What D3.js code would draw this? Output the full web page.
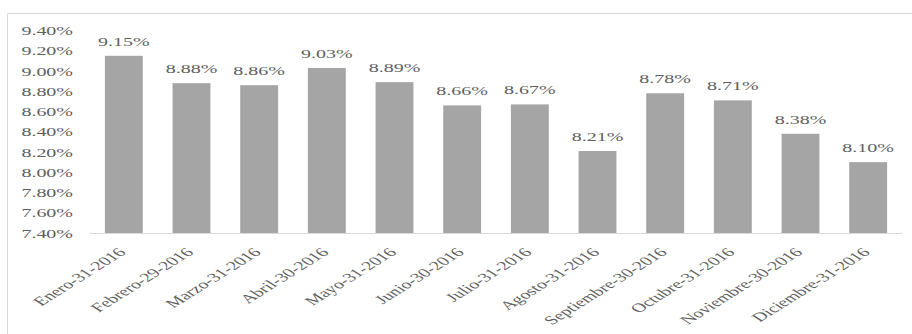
<!DOCTYPE html>
<html>
<head>
<meta charset="utf-8">
<script src="https://cdn.jsdelivr.net/npm/d3@7/dist/d3.min.js"></script>
<style>
  html, body { margin: 0; padding: 0; background: #ffffff; }
  svg { display: block; }
</style>
</head>
<body>
<svg id="chart" width="912" height="334"></svg>
<script>
// Monthly rate, 2016
const categories = [
  "Enero-31-2016", "Febrero-29-2016", "Marzo-31-2016", "Abril-30-2016",
  "Mayo-31-2016", "Junio-30-2016", "Julio-31-2016", "Agosto-31-2016",
  "Septiembre-30-2016", "Octubre-31-2016", "Noviembre-30-2016", "Diciembre-31-2016"
];
const values = [9.15, 8.88, 8.86, 9.03, 8.89, 8.66, 8.67, 8.21, 8.78, 8.71, 8.38, 8.10];
const yTicks = [7.4, 7.6, 7.8, 8.0, 8.2, 8.4, 8.6, 8.8, 9.0, 9.2, 9.4];

const svg = d3.select("#chart");
const W = 912, H = 334;
const plot = { left: 90, right: 902, top: 30.5, bottom: 233 };
const stretch = 1.6;      // wide glyph proportions
const fontSize = 12.5;
const serif = "Liberation Serif";
const textColor = "#5f5f5f";

// chart frame (top and left edges)
svg.append("path")
  .attr("d", `M7.5,${H} V13.5 H${W}`)
  .attr("fill", "none")
  .attr("stroke", "#d9d9d9")
  .attr("stroke-width", 1);

const x = d3.scaleBand()
  .domain(categories)
  .range([plot.left, plot.right])
  .paddingInner(0.44)
  .paddingOuter(0.22);

const y = d3.scaleLinear()
  .domain([7.4, 9.4])
  .range([plot.bottom, plot.top]);

const fmt = v => v.toFixed(2) + "%";

// bars
svg.append("g").selectAll("rect")
  .data(values)
  .join("rect")
  .attr("x", (d, i) => x(categories[i]))
  .attr("width", x.bandwidth())
  .attr("y", d => y(d))
  .attr("height", d => y(7.4) - y(d))
  .attr("fill", "#a5a5a5");

// value axis
const yAxis = d3.axisLeft(y).tickValues(yTicks).tickFormat(fmt).tickSize(0).tickPadding(0);
const gy = svg.append("g").attr("transform", `translate(${plot.left - 17},0)`).call(yAxis);
gy.attr("font-family", serif).attr("font-size", fontSize);
gy.select(".domain").remove();
gy.selectAll(".tick text")
  .attr("x", null).attr("dy", null)
  .attr("font-family", serif)
  .attr("fill", textColor)
  .attr("text-anchor", "end")
  .attr("transform", `translate(0,4) scale(${stretch},1)`);

// category axis
const xAxis = d3.axisBottom(x).tickSize(0).tickPadding(0);
const gx = svg.append("g").attr("transform", `translate(0,${plot.bottom})`).call(xAxis);
gx.attr("font-family", serif).attr("font-size", fontSize);
gx.select(".domain")
  .attr("d", `M${plot.left},0.5 H${plot.right}`)
  .attr("stroke", "#d9d9d9");
gx.selectAll(".tick text")
  .attr("y", null).attr("dy", null)
  .attr("font-family", serif)
  .attr("fill", textColor)
  .attr("text-anchor", "end")
  .attr("transform", `translate(3,20) scale(${stretch},1) rotate(-45)`);

// value labels
svg.append("g")
  .attr("font-family", serif).attr("font-size", fontSize)
  .attr("fill", textColor)
  .selectAll("text")
  .data(values)
  .join("text")
  .attr("text-anchor", "middle")
  .attr("transform", (d, i) =>
    `translate(${x(categories[i]) + x.bandwidth() / 2},${y(d) - 10}) scale(${stretch},1)`)
  .text(fmt);
</script>
</body>
</html>
